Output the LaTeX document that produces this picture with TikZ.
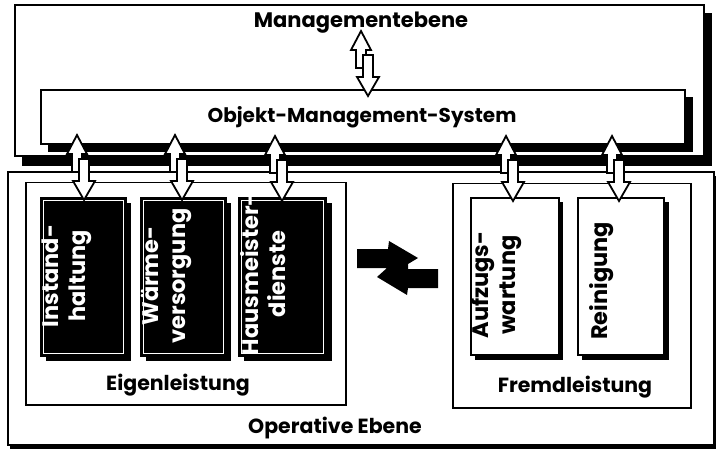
\documentclass[tikz,border=0pt]{standalone}
\usepackage{fontspec}
\setmainfont{Poppins}
\usetikzlibrary{calc}
\begin{document}
\begin{tikzpicture}[x=1pt,y=-1pt,
  box/.style={draw=black, line width=2pt, fill=white, inner sep=0pt, anchor=north west},
  grp/.style={draw=black, line width=1.5pt, fill=white, inner sep=0pt, anchor=north west},
  darkbox/.style={draw=black, line width=1.5pt, fill=black, inner sep=0pt, anchor=north west},
  lightbox/.style={draw=black, line width=2pt, fill=white, inner sep=0pt, anchor=north west},
  inset/.style={draw=white, line width=0.9pt},
  blockarrow/.style={draw=black, line width=1.8pt, fill=white, line join=miter},
  swaparrow/.style={fill=black},
  title/.style={font=\bfseries\fontsize{21}{24}\selectfont, inner sep=0pt, anchor=base},
  grouptitle/.style={font=\bfseries\fontsize{20.5}{24}\selectfont, inner sep=0pt, anchor=base},
  vtext/.style={rotate=90, anchor=north, align=center, inner sep=0pt, font=\bfseries\fontsize{22.5}{27}\selectfont},
  dblarrow/.pic={
    \filldraw[blockarrow] (0,0) -- (10,19) -- (5,19) -- (5,37) -- (-5,37) -- (-5,19) -- (-10,19) -- cycle;
    \filldraw[blockarrow] (7,65) -- (18,46) -- (12,46) -- (12,24) -- (2,24) -- (2,46) -- (-4,46) -- cycle;
  }
]
\useasboundingbox (0,0) rectangle (719,454);
\fill[white] (0,0) rectangle (719,454);

% Management level
\fill (22,13) rectangle (712,166);
\node[box, minimum width=689pt, minimum height=151pt] (mgmt) at (14,4) {};
\node[title] (mgmtT) at (361,28) {Managementebene};

% Object management system
\fill (48,97) rectangle (693,152);
\node[box, minimum width=644pt, minimum height=54pt] (oms) at (40,89) {};
\node[title, font=\bfseries\fontsize{20}{24}\selectfont] (omsT) at (362,123) {Objekt-Management-System};

% Operative level
\fill (10,176) rectangle (716,449);
\node[box, minimum width=706pt, minimum height=273pt] (oper) at (7,171) {};
\node[grouptitle] (operT) at (335,433) {Operative Ebene};

% Eigenleistung group
\node[grp, minimum width=320pt, minimum height=222pt] (eigen) at (25,182) {};
\node[grouptitle] (eigenT) at (178,390) {Eigenleistung};

\fill (46,203) rectangle (131,361);
\node[darkbox, minimum width=85pt, minimum height=158pt] (b1) at (40,197) {};
\draw[inset] ($(b1.north west)+(3,3)$) rectangle ($(b1.south east)+(-3,-3)$);
\node[vtext, text=white] (t1) at (42,276) {Instand-\\haltung};

\fill (146,203) rectangle (231,361);
\node[darkbox, minimum width=85pt, minimum height=158pt] (b2) at (140,197) {};
\draw[inset] ($(b2.north west)+(3,3)$) rectangle ($(b2.south east)+(-3,-3)$);
\node[vtext, text=white] (t2) at (141,276) {Wärme-\\versorgung};

\fill (244,203) rectangle (332,361);
\node[darkbox, minimum width=87pt, minimum height=158pt] (b3) at (238,197) {};
\draw[inset] ($(b3.north west)+(3,3)$) rectangle ($(b3.south east)+(-3,-3)$);
\node[vtext, text=white] (t3) at (240,274) {Hausmeister-\\dienste};

% Fremdleistung group
\node[grp, minimum width=238pt, minimum height=224pt] (fremd) at (452,183) {};
\node[grouptitle] (fremdT) at (575,392) {Fremdleistung};

\fill (475,202) rectangle (563,360);
\node[lightbox, minimum width=88pt, minimum height=157pt] (f1) at (470,197) {};
\node[vtext] (t4) at (471,285) {Aufzugs-\\wartung};

\fill (582,202) rectangle (669,360);
\node[lightbox, minimum width=86pt, minimum height=157pt] (f2) at (577,197) {};
\node[vtext] (t5) at (589,281) {Reinigung};

% exchange arrows between the groups
\fill[swaparrow] (357,249) -- (388,249) -- (389,241) -- (418,258) -- (408,264) -- (408,269)
  -- (438,269) -- (438,288) -- (408,288) -- (407,295) -- (377,277) -- (387,268) -- (357,268) -- cycle;

% double arrows
\pic at (361,31) {dblarrow};
\pic at (77,135) {dblarrow};
\pic at (175,135) {dblarrow};
\pic at (275,136) {dblarrow};
\pic at (506,136) {dblarrow};
\pic at (612,136) {dblarrow};
\end{tikzpicture}
\end{document}
